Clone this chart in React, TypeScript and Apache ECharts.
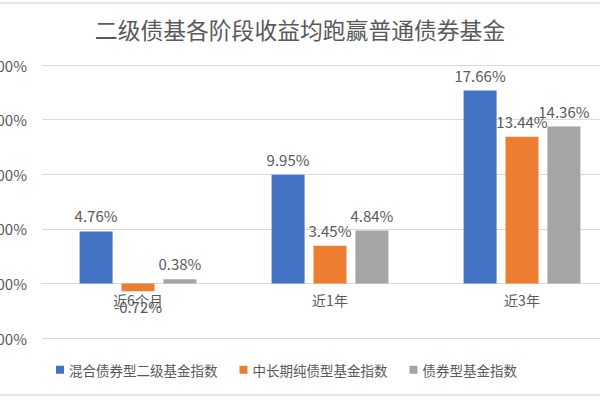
import React, { useEffect, useRef } from "react";
import * as echarts from "echarts";

const categories = ["近6个月", "近1年", "近3年"];
const seriesNames = ["混合债券型二级基金指数", "中长期纯债型基金指数", "债券型基金指数"];
const mixedBond2 = [4.76, 9.95, 17.66];
const midLongPure = [-0.72, 3.45, 13.44];
const bondFund = [0.38, 4.84, 14.36];
const colors = ["#4472C4", "#ED7D31", "#A5A5A5"];
const yTicks = { min: -5, max: 20, interval: 5 };

const FONT = "'Noto Sans CJK SC', 'Noto Sans', sans-serif";
const TXT = "#595959";

const GRID_TOP = 65;
const GRID_BOTTOM = 62;
const GRID_H = 400 - GRID_TOP - GRID_BOTTOM;

export default function App() {
  const ref = useRef<HTMLDivElement>(null);
  useEffect(() => {
    if (!ref.current) return;
    const chart = echarts.init(ref.current, undefined, { renderer: "svg" });
    const mk = (name: string, data: number[], color: string) => ({
      name,
      type: "bar",
      barWidth: 33,
      barGap: "27%",
      itemStyle: { color },
      data: data.map((v) => ({
        value: v,
        label: { position: v < 0 ? "bottom" : "top" },
      })),
      label: {
        show: true,
        color: TXT,
        fontSize: 15,
        fontFamily: FONT,
        distance: 8,
        formatter: (p: any) => p.value.toFixed(2) + "%",
      },
    });
    // move the category axis up to the zero line
    const zeroOffset = -((0 - yTicks.min) / (yTicks.max - yTicks.min)) * GRID_H;
    chart.setOption({
      animation: false,
      backgroundColor: "#fff",
      title: {
        text: "二级债基各阶段收益均跑赢普通债券基金",
        left: "center",
        top: 13,
        textStyle: { color: TXT, fontSize: 22.8, fontWeight: "normal", fontFamily: FONT },
      },
      legend: {
        data: seriesNames,
        left: 51,
        top: 358,
        itemWidth: 8,
        itemHeight: 8,
        itemGap: 22,
        icon: "rect",
        textStyle: { color: TXT, fontSize: 13.5, fontFamily: FONT },
      },
      grid: {
        left: 42,
        right: -18,
        top: GRID_TOP,
        bottom: GRID_BOTTOM,
        containLabel: false,
        outerBoundsMode: "none",
      },
      xAxis: {
        type: "category",
        data: categories,
        offset: zeroOffset,
        axisLine: { show: true, onZero: false, lineStyle: { color: "#D9D9D9" } },
        axisTick: { show: false },
        axisLabel: { color: TXT, fontSize: 14, fontFamily: FONT, margin: 10 },
      },
      yAxis: {
        type: "value",
        min: yTicks.min,
        max: yTicks.max,
        interval: yTicks.interval,
        axisLine: { show: false },
        axisTick: { show: false },
        splitLine: { lineStyle: { color: "#D9D9D9" } },
        axisLabel: {
          color: TXT,
          fontSize: 15,
          fontFamily: FONT,
          margin: 15,
          formatter: (v: number) => v.toFixed(2) + "%",
        },
      },
      graphic: [
        { type: "line", shape: { x1: 0, y1: 3, x2: 600, y2: 3 }, style: { stroke: "#E6E6E6", lineWidth: 2 } },
        { type: "line", shape: { x1: 0, y1: 395, x2: 600, y2: 395 }, style: { stroke: "#E6E6E6", lineWidth: 2 } },
      ],
      series: [
        mk(seriesNames[0], mixedBond2, colors[0]),
        mk(seriesNames[1], midLongPure, colors[1]),
        mk(seriesNames[2], bondFund, colors[2]),
      ],
    });
    return () => chart.dispose();
  }, []);
  return (
    <div
      ref={ref}
      style={{ position: "fixed", left: 0, top: 0, width: 600, height: 400, background: "#fff" }}
    />
  );
}
